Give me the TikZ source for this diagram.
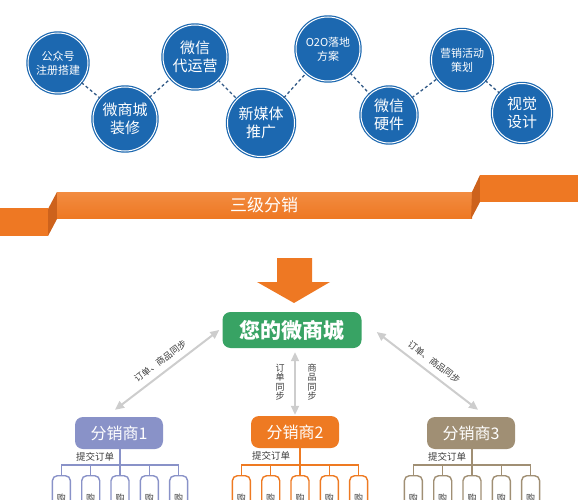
\documentclass[tikz,border=0pt]{standalone}
\usepackage{fontspec}
\newfontfamily\cjk{Noto Sans CJK SC}
\usepackage{xcolor}
\usepackage{tikz}
\usetikzlibrary{arrows.meta}

\definecolor{wxblue}{RGB}{28,104,176}
\definecolor{wxdash}{RGB}{50,90,135}
\definecolor{band}{RGB}{238,120,35}
\definecolor{bandtop}{RGB}{242,140,65}
\definecolor{bandside}{RGB}{205,98,28}
\definecolor{shopgreen}{RGB}{56,163,100}
\definecolor{agentA}{RGB}{137,146,200}
\definecolor{agentB}{RGB}{238,122,34}
\definecolor{agentC}{RGB}{160,143,116}
\definecolor{syncgray}{RGB}{205,205,205}
\definecolor{labelgray}{RGB}{60,60,60}

\tikzset{
  bubble/.style={circle,fill=wxblue,draw=wxblue,double=white,double distance=1pt,
    line width=1.2pt,text=white,align=center,inner sep=0pt,minimum size=#1},
  bubble/.default=62,
  bigtxt/.style={font=\cjk\fontsize{15}{18}\selectfont},
  smalltxt/.style={font=\cjk\fontsize{11}{14}\selectfont},
  link/.style={draw=wxdash,line width=1.3pt,dash pattern=on 3pt off 2.5pt},
  shopbox/.style={rounded corners=8pt,fill=shopgreen,text=white,minimum width=139,
    minimum height=36,inner sep=0pt,font=\cjk\bfseries\fontsize{21}{21}\selectfont},
  agent/.style={rounded corners=8pt,fill=#1,text=white,minimum width=88,minimum height=32,
    inner sep=0pt,font=\cjk\fontsize{16}{16}\selectfont},
  sync/.style={draw=syncgray,line width=2pt,
    {Triangle[length=9pt,width=8pt]}-{Triangle[length=9pt,width=8pt]}},
  synclabel/.style={text=labelgray,inner sep=0pt,font=\cjk\fontsize{9}{9}\selectfont},
  vlabel/.style={text=labelgray,align=center,inner sep=0pt,font=\cjk\fontsize{9}{9.5}\selectfont},
  orderlabel/.style={text=labelgray,inner sep=0pt,anchor=north west,font=\cjk\fontsize{9.5}{9.5}\selectfont},
  tree/.style={draw=#1,line width=1.4pt},
  buyer/.style={draw=#1,line width=1.4pt,rounded corners=5pt,fill=white,minimum width=18,
    minimum height=44,anchor=north,inner sep=0pt,text=labelgray,font=\cjk\fontsize{9}{9}\selectfont}
}

\begin{document}
\begin{tikzpicture}[x=1pt,y=-1pt,font=\cjk]
  \useasboundingbox (0,0) rectangle (578,500);
  \clip (0,0) rectangle (578,500);

  % services
  \node[bubble=60,smalltxt] (gzh) at (58,63)   {公众号\\注册搭建};
  \node[bubble=64,bigtxt]   (wsc) at (125,119) {微商城\\装修};
  \node[bubble=64,bigtxt]   (dyy) at (195,57)  {微信\\代运营};
  \node[bubble=67,bigtxt]   (xmt) at (261,123) {新媒体\\推广};
  \node[bubble=64,smalltxt] (oto) at (328,49)  {O2O落地\\方案};
  \node[bubble=56,bigtxt]   (yj)  at (389,115) {微信\\硬件};
  \node[bubble=61,smalltxt] (yx)  at (462,60)  {营销活动\\策划};
  \node[bubble=59,bigtxt]   (sj)  at (522,113) {视觉\\设计};
  \foreach \a/\b in {gzh/wsc,wsc/dyy,dyy/xmt,xmt/oto,oto/yj,yj/yx,yx/sj}
    \draw[link] (\a) -- (\b);

  % band
  \fill[band] (0,208) rectangle (48,236);
  \fill[bandside] (48,209) -- (57,192) -- (57,219) -- (48,236) -- cycle;
  \shade[top color=bandtop,bottom color=band] (57,192) rectangle (472,218);
  \fill[bandside] (472,192) -- (480,175) -- (480,202) -- (471,219) -- cycle;
  \fill[band] (480,175) rectangle (578,202);
  \node[text=white,font=\cjk\fontsize{17}{17}\selectfont] (title) at (264,205) {三级分销};

  % big arrow
  \fill[band] (277,258) -- (312,258) -- (312,282) -- (330,282) -- (294,303)
    -- (257,282) -- (277,282) -- cycle;

  % shop and agents
  \node[shopbox] (shop) at (292,330) {您的微商城};
  \node[agent=agentA] (d1) at (119,433) {分销商1};
  \node[agent=agentB] (d2) at (295,432) {分销商2};
  \node[agent=agentC] (d3) at (471,433) {分销商3};

  \draw[sync] ([shift={(-4,-7)}]d1.north)
    -- node[synclabel,sloped,above=6pt] {订单、商品同步} ([xshift=-3]shop.west);
  \draw[sync] ([shift={(15,2)}]shop.east)
    -- node[synclabel,sloped,above=6pt] {订单、商品同步} ([shift={(7,-7)}]d3.north);
  \draw[sync,shorten <=4pt,shorten >=1pt] (d2.north |- shop.south)
    -- node[vlabel,xshift=-15] {订\\单\\同\\步}
       node[vlabel,xshift=17] {商\\品\\同\\步} (d2.north);

  % buyers
  \foreach \g/\m/\c in {d1/120/agentA,d2/300/agentB,d3/472/agentC}{
    \node[orderlabel] (\g-order) at ([shift={(1,3)}]\g.south west) {提交订单};
    \foreach \i in {1,...,5}
      \node[buyer=\c] (\g-\i) at ({\m+29.3*(\i-3)},475) {购};
    \draw[tree=\c] (\g.south -| \g-3.north) -- (\g-3.north);
    \draw[tree=\c] (\g-1.north) -- ++(0,-10) -| (\g-5.north);
    \foreach \i in {2,3,4}
      \draw[tree=\c] (\g-\i.north) -- ++(0,-10);
  }
\end{tikzpicture}
\end{document}
